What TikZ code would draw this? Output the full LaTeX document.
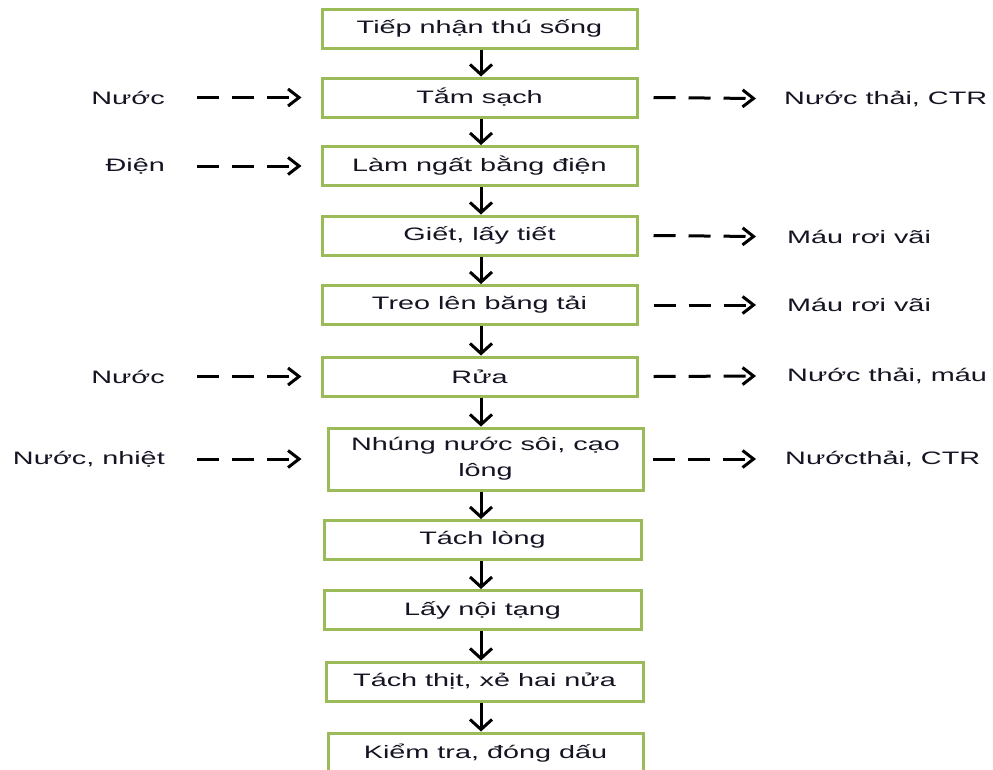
\documentclass[tikz,border=0pt]{standalone}
\usepackage{fontspec}
\setmainfont{Liberation Sans}[FakeStretch=1.6]
\usetikzlibrary{arrows.meta}
\definecolor{boxgreen}{RGB}{155,187,89}
\definecolor{txt}{RGB}{20,20,35}
\begin{document}
\begin{tikzpicture}[x=1pt,y=-1pt,
  stepbox/.style={draw=boxgreen,line width=3pt,fill=white,minimum width=315pt,minimum height=39pt,inner sep=0pt,text=txt,font=\fontsize{18}{26}\selectfont,align=center},
  lbl/.style={text=txt,font=\fontsize{18}{22}\selectfont,inner sep=0pt},
  flow/.style={line width=3pt,-{Straight Barb[length=10pt,width=22pt]}},
  side/.style={line width=3pt,dash pattern=on 22pt off 13pt,-{Straight Barb[length=11pt,width=17pt]}}]
\clip (0,0) rectangle (993,769);
\fill[white] (0,0) rectangle (993,769);
\node[stepbox] (b1) at (479.5,28.5) {Tiếp nhận thú sống};
\node[stepbox] (b2) at (479.5,97.5) {Tắm sạch};
\node[stepbox] (b3) at (479.5,166) {Làm ngất bằng điện};
\node[stepbox] (b4) at (479.5,235.5) {Giết, lấy tiết};
\node[stepbox] (b5) at (479.5,305) {Treo lên băng tải};
\node[stepbox] (b6) at (479.5,376.5) {Rửa};
\node[stepbox,minimum height=62pt] (b7) at (485.5,459) {Nhúng nước sôi, cạo\\lông};
\node[stepbox,minimum width=317pt] (b8) at (482.5,540) {Tách lòng};
\node[stepbox,minimum width=317pt] (b9) at (482.5,610) {Lấy nội tạng};
\node[stepbox,minimum width=317pt] (b10) at (484.5,681.5) {Tách thịt, xẻ hai nửa};
\node[stepbox,minimum width=315pt,minimum height=40pt] (b11) at (485.5,753) {Kiểm tra, đóng dấu};
\coordinate (ax) at (481,0);
\foreach \a/\b in {b1/b2,b2/b3,b3/b4,b4/b5,b5/b6,b6/b7,b7/b8,b8/b9,b9/b10,b10/b11}
  \draw[flow] (\a.south -| ax) -- (\b.north -| ax);
% inputs
\node[lbl,anchor=east] (l1) at (165,97.5) {Nước};
\node[lbl,anchor=east] (l2) at (165,166) {Điện};
\node[lbl,anchor=east] (l3) at (165,376.5) {Nước};
\node[lbl,anchor=east] (l4) at (165,459) {Nước, nhiệt};
\draw[side] ([xshift=32pt]l1.east) -- ([xshift=-19pt]b2.west);
\draw[side] ([xshift=32pt]l2.east) -- ([xshift=-19pt]b3.west);
\draw[side] ([xshift=32pt]l3.east) -- ([xshift=-19pt]b6.west);
\draw[side] ([xshift=32pt]l4.east) -- ([xshift=-25pt]b7.west);
% outputs
\node[lbl,anchor=west] (r1) at (784,98.5) {Nước thải, CTR};
\node[lbl,anchor=west] (r2) at (787,236.5) {Máu rơi vãi};
\node[lbl,anchor=west] (r3) at (787,305) {Máu rơi vãi};
\node[lbl,anchor=west] (r4) at (787,376) {Nước thải, máu};
\node[lbl,anchor=west] (r5) at (785,459) {Nướcthải, CTR};
\draw[side] ([xshift=15pt]b2.east) -- ([xshift=-28pt]r1.west);
\draw[side] ([xshift=15pt]b4.east) -- ([xshift=-31pt]r2.west);
\draw[side] ([xshift=15pt]b5.east) -- ([xshift=-31pt]r3.west);
\draw[side] ([xshift=15pt]b6.east) -- ([xshift=-31pt]r4.west);
\draw[side] ([xshift=8pt]b7.east) -- ([xshift=-29pt]r5.west);
\end{tikzpicture}
\end{document}
